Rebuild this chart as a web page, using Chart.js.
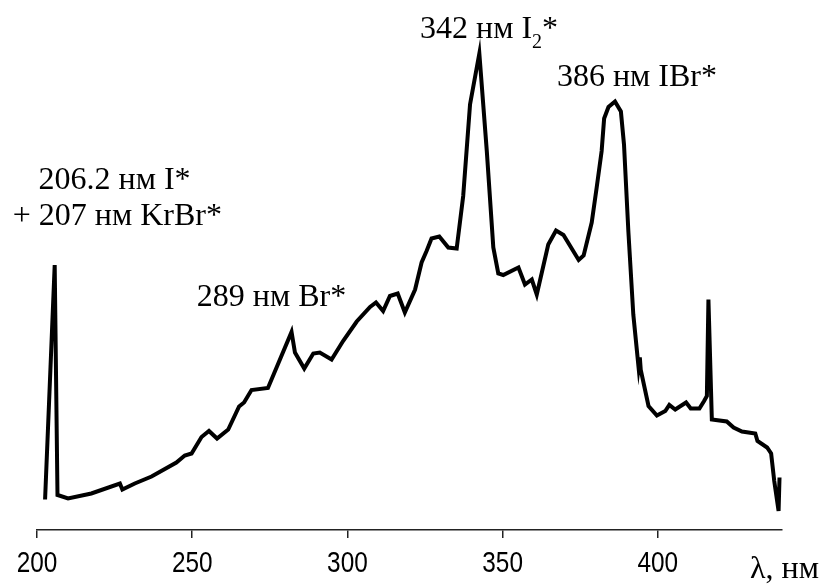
<!DOCTYPE html>
<html>
<head>
<meta charset="utf-8">
<script src="https://cdn.jsdelivr.net/npm/chart.js@4.4.1/dist/chart.umd.min.js"></script>
<style>
  html, body { margin: 0; padding: 0; background: #fff; }
  #wrap { width: 836px; height: 586px; }
</style>
</head>
<body>
<div id="wrap"><canvas id="c" width="836" height="586"></canvas></div>
<script>
// Emission spectrum: wavelength (nm) and relative intensity (arb. units)
const wavelength = [
  202.6, 205.7, 206.6, 210.0, 217.5, 226.7, 227.5, 231.5, 236.9, 244.9,
  247.6, 249.8, 253.0, 255.4, 258.0, 261.6, 265.1, 266.7, 269.1, 274.4,
  282.0, 283.1, 286.1, 289.0, 291.1, 294.9, 298.6, 303.0, 307.3, 309.2,
  311.5, 313.7, 316.2, 318.5, 321.8, 323.9, 325.5, 327.1, 329.6, 332.5,
  335.2, 337.3, 339.5, 342.5, 344.9, 347.0, 348.6, 350.2, 355.1, 357.2,
  359.4, 361.0, 364.7, 367.2, 369.6, 374.5, 376.1, 378.7, 380.3, 381.9,
  382.7, 384.1, 386.2, 388.1, 389.1, 390.5, 392.1, 393.8, 394.2, 394.5,
  397.0, 399.7, 402.4, 403.7, 405.6, 409.1, 410.6, 413.4, 414.9, 415.8,
  416.3, 417.4, 422.2, 424.4, 427.1, 431.4, 432.1, 435.2, 436.5, 437.5,
  438.9, 439.2
];
const intensity = [
  6.1, 53.0, 7.0, 6.3, 7.3, 9.3, 8.1, 9.3, 10.7, 13.5,
  14.9, 15.3, 18.6, 19.8, 18.3, 20.1, 24.7, 25.5, 28.0, 28.4,
  39.6, 35.5, 32.3, 35.3, 35.5, 34.1, 37.8, 41.7, 44.6, 45.5,
  43.8, 46.8, 47.3, 43.5, 48.1, 53.5, 55.8, 58.3, 58.7, 56.5,
  56.3, 66.8, 85.1, 95.3, 75.8, 56.5, 51.3, 51.0, 52.5, 49.1,
  50.1, 47.1, 57.1, 59.9, 59.0, 54.0, 54.9, 61.5, 68.5, 75.8,
  82.3, 84.6, 85.7, 83.7, 77.1, 59.8, 43.1, 32.5, 34.5, 32.0,
  24.8, 22.9, 23.8, 25.0, 24.1, 25.5, 24.3, 24.3, 25.8, 26.8,
  46.1, 22.1, 21.7, 20.5, 19.7, 19.3, 17.8, 16.5, 15.3, 9.8,
  3.8, 10.5
];
const xTicks = [200, 250, 300, 350, 400];

// Peak labels: text parts and the anchor (wavelength, intensity) of each baseline start
const labelText = [
  [['206.2 нм I*']],
  [['+ 207 нм KrBr*']],
  [['289 нм Br*']],
  [['342 нм I'], ['2', 'sub'], ['*']],
  [['386 нм IBr*']],
  [['λ, нм']]
];
const labelX = [200.5, 192.2, 251.5, 323.4, 367.5, 429.7];
const labelY = [68.2, 61.0, 44.8, 98.4, 88.8, -9.6];

const serif = "'Liberation Serif', 'Times New Roman', serif";
const sans = "'Liberation Sans', Arial, sans-serif";

const textLayer = {
  id: 'textLayer',
  afterDraw(chart) {
    const ctx = chart.ctx;
    const xs = chart.scales.x, ys = chart.scales.y;
    ctx.save();
    ctx.fillStyle = '#000';
    ctx.textBaseline = 'alphabetic';

    // condensed tick numbers under the axis
    ctx.font = '29px ' + sans;
    ctx.textAlign = 'center';
    xTicks.forEach(v => {
      ctx.save();
      ctx.translate(xs.getPixelForValue(v), chart.chartArea.bottom + 42);
      ctx.scale(0.84, 1);
      ctx.fillText(String(v), 0, 0);
      ctx.restore();
    });

    // peak annotations and axis caption
    ctx.textAlign = 'left';
    labelText.forEach((parts, i) => {
      let x = xs.getPixelForValue(labelX[i]);
      const y = ys.getPixelForValue(labelY[i]);
      parts.forEach(([t, kind]) => {
        if (kind === 'sub') {
          ctx.font = '20px ' + serif;
          ctx.fillText(t, x, y + 10);
        } else {
          ctx.font = '32px ' + serif;
          ctx.fillText(t, x, y);
        }
        x += ctx.measureText(t).width;
      });
    });
    ctx.restore();
  }
};

new Chart(document.getElementById('c'), {
  type: 'line',
  data: {
    datasets: [{
      data: wavelength.map((w, i) => ({ x: w, y: intensity[i] })),
      borderColor: '#000',
      borderWidth: 4,
      pointRadius: 0,
      tension: 0,
      fill: false,
      clip: false
    }]
  },
  options: {
    responsive: false,
    animation: false,
    layout: { padding: { left: 37, right: 54, top: 30, bottom: 0 } },
    plugins: { legend: { display: false }, tooltip: { enabled: false } },
    scales: {
      x: {
        type: 'linear',
        min: 200,
        max: 440,
        afterBuildTicks(scale) { scale.ticks = xTicks.map(v => ({ value: v })); },
        afterFit(scale) { scale.height = 56; },
        border: { display: true, color: '#222', width: 1.5 },
        grid: { drawOnChartArea: false, drawTicks: true, tickLength: 8, color: '#222', lineWidth: 1.5 },
        ticks: { display: false }
      },
      y: { display: false, min: 0, max: 100 }
    }
  },
  plugins: [textLayer]
});
</script>
</body>
</html>
